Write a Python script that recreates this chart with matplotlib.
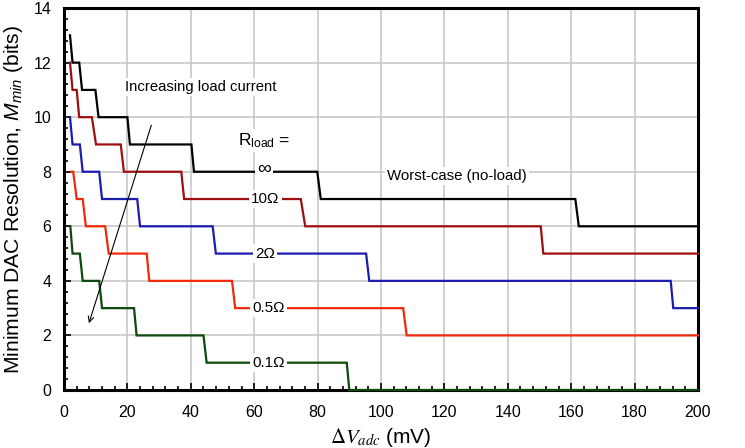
import matplotlib
matplotlib.use("Agg")
import matplotlib.pyplot as plt
from matplotlib.ticker import MultipleLocator

plt.rcParams['font.family'] = ['Liberation Sans', 'DejaVu Sans']
plt.rcParams['mathtext.fontset'] = 'custom'
plt.rcParams['mathtext.rm'] = 'Liberation Sans'
plt.rcParams['mathtext.it'] = 'Liberation Sans:italic'
plt.rcParams['mathtext.bf'] = 'Liberation Sans:bold'

# ---- data ----
inf_x = [1.9, 2.7, 4.8, 5.7, 9.9, 10.9, 20.0, 20.8, 40.2, 41.0, 79.9, 81.0, 161.3, 162.4, 200]
inf_y = [13, 12, 12, 11, 11, 10, 10, 9, 9, 8, 8, 7, 7, 6, 6]

r10_x = [1.9, 2.7, 4.0, 4.8, 8.8, 10.1, 17.9, 18.9, 37.0, 37.9, 74.7, 76.1, 150.4, 151.2, 200]
r10_y = [12, 11, 11, 10, 10, 9, 9, 8, 8, 7, 7, 6, 6, 5, 5]

r2_x = [1.9, 2.7, 5.0, 5.9, 11.1, 12.0, 23.1, 24.0, 46.9, 47.9, 95.3, 96.3, 191.4, 192.2, 200]
r2_y = [10, 9, 9, 8, 8, 7, 7, 6, 6, 5, 5, 4, 4, 3, 3]

r05_x = [2.3, 2.9, 4.0, 5.9, 6.9, 13.0, 14.1, 26.1, 26.9, 53.0, 54.0, 107.0, 108.1, 200]
r05_y = [8, 8, 7, 7, 6, 6, 5, 5, 4, 4, 3, 3, 2, 2]

r01_x = [2.0, 2.7, 5.0, 5.9, 11.1, 12.0, 22.1, 22.9, 44.0, 45.0, 89.2, 90.0, 200]
r01_y = [6, 5, 5, 4, 4, 3, 3, 2, 2, 1, 1, 0, 0]

series_labels = ['∞', '10Ω', '2Ω', '0.5Ω', '0.1Ω']
label_pos_x = [63, 63.5, 63.5, 64.5, 64.5]
label_pos_y = [8.1, 7, 5, 3, 1]
label_sizes = [14, 11, 11, 11, 11]
colors = ['#000000', '#a00f0f', '#1c1cb0', '#f02a0a', '#0b4a0b']

fig = plt.figure(figsize=(7.45, 4.48), dpi=100)
ax = fig.add_axes([0.0859, 0.1295, 0.851, 0.8525])

all_x = [inf_x, r10_x, r2_x, r05_x, r01_x]
all_y = [inf_y, r10_y, r2_y, r05_y, r01_y]
for xs, ys, c in zip(all_x, all_y, colors):
    ax.plot(xs, ys, color=c, lw=1.6, zorder=3, clip_on=False, solid_joinstyle='miter')

box = dict(facecolor='white', edgecolor='none', pad=1.5)
for t, x, y, fs in zip(series_labels, label_pos_x, label_pos_y, label_sizes):
    ax.text(x, y, t, ha='center', va='center', fontsize=fs, bbox=box, zorder=4)

ax.text(63, 9.15, r'$\mathrm{R}_{\mathrm{load}}$ =', ha='center', va='center',
        fontsize=12.5, bbox=box, zorder=4)
ax.text(124, 7.85, 'Worst-case (no-load)', ha='center', va='center',
        fontsize=10.8, bbox=box, zorder=4)
ax.text(19.2, 11.1, 'Increasing load current', ha='left', va='center',
        fontsize=10.7, bbox=box, zorder=4)
ax.annotate('', xy=(7.6, 2.35), xytext=(27.8, 9.8),
            arrowprops=dict(arrowstyle='->', lw=0.8, color='black',
                            mutation_scale=10), zorder=5)

ax.set_xlim(0, 200)
ax.set_ylim(0, 14)
ax.xaxis.set_major_locator(MultipleLocator(20))
ax.xaxis.set_minor_locator(MultipleLocator(4))
ax.yaxis.set_major_locator(MultipleLocator(2))
ax.yaxis.set_minor_locator(MultipleLocator(0.4))
ax.tick_params(which='both', direction='in', top=False, right=False,
               labelsize=11.5, width=1.2)
ax.tick_params(which='major', length=5)
ax.tick_params(axis='x', which='major', pad=11)
ax.tick_params(axis='y', which='major', pad=9)
ax.tick_params(which='minor', length=3)
ax.grid(True, which='major', color='#c4c4c4', lw=1.1, zorder=0)
ax.set_axisbelow(True)
for s in ax.spines.values():
    s.set_linewidth(2.2)
    s.set_zorder(2.5)

ax.set_xlabel(r'$\Delta V_{adc}$ (mV)', fontsize=15, math_fontfamily='stix', labelpad=4)
ax.set_ylabel(r'Minimum DAC Resolution, $M_{min}$ (bits)', fontsize=15.2, labelpad=6)

fig.savefig('out.png', dpi=100)
